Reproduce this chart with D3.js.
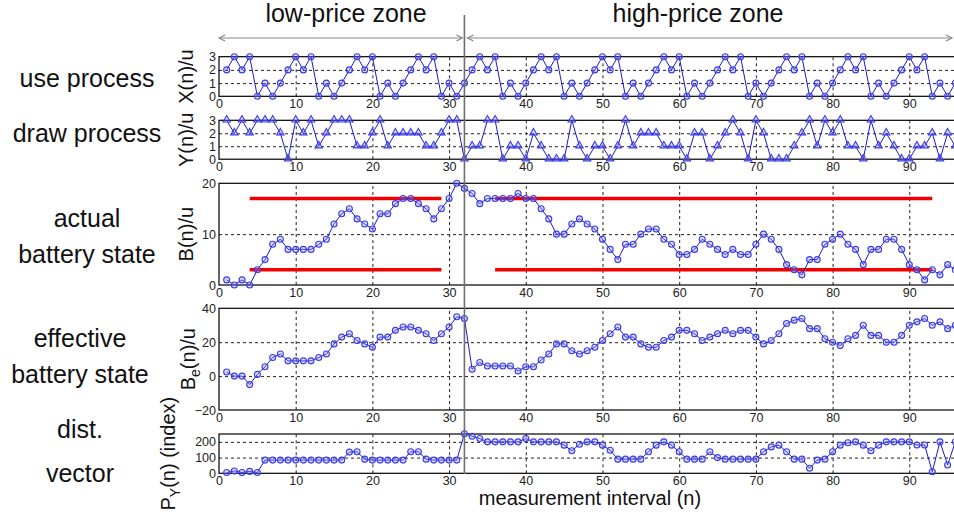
<!DOCTYPE html>
<html>
<head>
<meta charset="utf-8">
<script src="https://cdn.jsdelivr.net/npm/d3@7"></script>
<style>
  html, body { margin: 0; padding: 0; background: #fff; }
  svg { display: block; font-family: "Liberation Sans", Arial, sans-serif; }
</style>
</head>
<body>
<svg id="chart" width="954" height="518"></svg>
<script>
// ---------------- data ----------------
const nValues = d3.range(1, 97);
const useX = [2,3,2,3,0,1,0,1, 2,3,2,3,0,1,0,1, 2,3,2,3,0,1,0,1, 2,3,2,3,0,1,0,1,
              2,3,2,3,0,1,0,1, 2,3,2,3,0,1,0,1, 2,3,2,3,0,1,0,1, 2,3,2,3,0,1,0,1,
              2,3,2,3,0,1,0,1, 2,3,2,3,0,1,0,1, 2,3,2,3,0,1,0,1, 2,3,2,3,0,1,0,1];
const drawY = [3,2,3,2,3,3,3,2,0,3, 2,3,1,2,3,3,3,1,1,2, 3,1,2,2,2,2,1,1,2,3,
               3,0,1,1,3,3,0,1,1,0, 2,1,0,0,0,3,1,0,1,1, 0,1,3,1,2,2,2,1,1,1,
               0,2,2,0,1,2,3,2,0,3, 2,0,0,0,1,2,3,1,3,2, 3,1,1,0,3,1,2,1,0,0,
               1,1,2,0,2,1];
const batteryB = [1,0,1,0,3,5,8,9,7,7, 7,7,8,9,12,14,15,13,12,11, 14,14,16,17,17,16,15,13,15,17,
                  20,19,18,16,17,17,17,17,18,17, 17,15,13,10,10,12,13,12,11,9, 7,5,8,8,10,11,11,9,8,6,
                  6,7,9,8,7,6,7,6,6,8, 10,9,7,4,3,2,5,5,8,9, 10,8,7,4,7,7,9,9,7,4,
                  3,1,3,2,4,3];
const effectiveBe = [2.4,0,0,-5,1,5.5,11,13,9,9, 9,9,11,13,19,23,25,21,19,17, 23,23,27,29,29,27,25,21,25,29,
                     35,34,4,8,6,6,6,6,3,5.5, 5.5,9.5,13,19,19,15,13,15,17,21, 25,29,23,23,19,17,17,21,23,27,
                     27,25,21,23,25,27,25,27,27,23, 19,21,25,31,33,34,28,28,22,20, 18,22,24,30,24,24,20,20,24,30,
                     32,34,30,32,28,30];
const distPY = [5,15,5,12,5,84,84,84,84,84, 84,84,84,84,84,84,135,137,90,84, 84,84,84,84,137,137,90,84,84,84,
                84,252,236,221,200,200,200,200,200,221, 200,200,200,200,179,143,185,200,200,179,
                147,90,90,90,90,137,179,200,179,137, 90,90,90,137,100,90,90,90,90,90,
                137,168,179,137,90,90,32,84,90,137, 179,194,200,179,143,179,200,200,200,200,
                180,180,10,200,53,200];
const thresholdLevels = [3, 17];           // red limits on B(n)
const thresholdSpans = [[4, 29], [36, 93]]; // n-ranges of red limits
const zoneBoundary = 32;
const zoneLabels = ["low-price zone", "high-price zone"];
const xTickValues = [0,10,20,30,40,50,60,70,80,90];
const rowLabels = [["use process"], ["draw process"], ["actual", "battery state"],
                   ["effective", "battery state"], ["dist.", "vector"]];
const xTitle = "measurement interval (n)";

// ---------------- layout ----------------
const svg = d3.select("#chart");
const x = d3.scaleLinear().domain([0, 96]).range([219, 955.3]);
const left = 219, right = 956;
const blue = "#1a1ad0", markStroke = "#3b3be8", markFill = "rgba(140,140,255,0.30)";
const FONT = "Liberation Sans, Arial, sans-serif";

const panels = [
  {data: useX,        dom: [0,3],    top: 56.7,  bottom: 96.3,  yt: [0,1,2,3],     grid: [1,2],     label: ["X(n)/u"], lx: 186, sym: "circle"},
  {data: drawY,       dom: [0,3],    top: 120.3, bottom: 159.2, yt: [0,1,2,3],     grid: [1,2],     label: ["Y(n)/u"], lx: 186, sym: "tri"},
  {data: batteryB,    dom: [0,20],   top: 183.3, bottom: 285,   yt: [0,10,20],     grid: [10],      label: ["B(n)/u"], lx: 186, sym: "circle", red: true},
  {data: effectiveBe, dom: [-20,40], top: 308.3, bottom: 410,   yt: [-20,0,20,40], grid: [0,20],    label: ["B", "e", "(n)/u"], lx: 188, sym: "circle"},
  {data: distPY,      dom: [0,250],  top: 434,   bottom: 473.3, yt: [0,100,200],   grid: [100,200], label: ["P", "Y", "(n) (index)"], lx: 168, sym: "circle"}
];

panels.forEach((p, i) => {
  const y = d3.scaleLinear().domain(p.dom).range([p.bottom, p.top]);
  const g = svg.append("g");

  // vertical grid
  g.append("g").attr("transform", `translate(0,${p.bottom})`)
    .call(d3.axisBottom(x).tickValues(d3.range(10, 100, 10)).tickSize(-(p.bottom - p.top)).tickFormat(""))
    .call(a => a.select(".domain").remove())
    .call(a => a.selectAll("line").attr("stroke", "#222").attr("stroke-dasharray", "3,3").attr("stroke-width", 1));
  // horizontal grid
  g.append("g").attr("transform", `translate(${left},0)`)
    .call(d3.axisLeft(y).tickValues(p.grid).tickSize(-(right - left)).tickFormat(""))
    .call(a => a.select(".domain").remove())
    .call(a => a.selectAll("line").attr("stroke", "#222").attr("stroke-dasharray", "3,3").attr("stroke-width", 1));

  // box
  g.append("rect").attr("x", left).attr("y", p.top).attr("width", right - left).attr("height", p.bottom - p.top)
    .attr("fill", "none").attr("stroke", "#000").attr("stroke-width", 1.2);

  // x tick labels
  g.append("g").attr("transform", `translate(0,${p.bottom})`)
    .call(d3.axisBottom(x).tickValues(xTickValues).tickSize(0).tickPadding(3).tickFormat(d3.format("d")))
    .call(a => a.select(".domain").remove())
    .call(a => a.selectAll("text").attr("font-size", 12.5).attr("fill", "#222").attr("font-family", FONT));
  // y tick labels
  g.append("g").attr("transform", `translate(${left},0)`)
    .call(d3.axisLeft(y).tickValues(p.yt).tickSize(0).tickPadding(3).tickFormat(d3.format("d")))
    .call(a => a.select(".domain").remove())
    .call(a => a.selectAll("text").attr("font-size", 12.5).attr("fill", "#222").attr("font-family", FONT));

  // y label
  const cy = (p.top + p.bottom) / 2;
  const t = g.append("text").attr("transform", `translate(${p.lx},${cy}) rotate(-90)`)
    .attr("text-anchor", "middle").attr("dy", "0.35em").attr("font-size", 20).attr("fill", "#111");
  if (p.label.length === 1) {
    t.text(p.label[0]);
  } else {
    t.append("tspan").text(p.label[0]);
    t.append("tspan").attr("font-size", 14).attr("dy", "0.35em").text(p.label[1]);
    t.append("tspan").attr("dy", "-0.25em").text(p.label[2]);
  }

  // red limits
  if (p.red) {
    thresholdSpans.forEach(s => {
      thresholdLevels.forEach(lv => {
        g.append("line").attr("x1", x(s[0])).attr("x2", x(s[1])).attr("y1", y(lv)).attr("y2", y(lv))
          .attr("stroke", "#f00000").attr("stroke-width", 3.5);
      });
    });
  }

  // data line
  const pts = p.data.map((v, k) => [nValues[k], v]);
  g.append("path").datum(pts)
    .attr("d", d3.line().x(d => x(d[0])).y(d => y(d[1])))
    .attr("fill", "none").attr("stroke", blue).attr("stroke-width", 1);
  if (p.sym === "circle") {
    g.selectAll("circle.m").data(pts).join("circle").attr("class", "m")
      .attr("cx", d => x(d[0])).attr("cy", d => y(d[1])).attr("r", 3)
      .attr("fill", markFill).attr("stroke", markStroke).attr("stroke-width", 1.1);
  } else {
    const tri = d3.symbol(d3.symbolTriangle, 24);
    g.selectAll("path.m").data(pts).join("path").attr("class", "m")
      .attr("transform", d => `translate(${x(d[0])},${y(d[1]) - 0.5})`).attr("d", tri)
      .attr("fill", markFill).attr("stroke", markStroke).attr("stroke-width", 1.1);
  }
});

// left row labels
const rowPos = [[87], [141.5], [227, 263], [347, 383], [438, 482]];
rowLabels.forEach((lines, i) => {
  lines.forEach((s, j) => {
    svg.append("text").attr("x", i >= 3 ? 80 : 87).attr("y", rowPos[i][j]).attr("text-anchor", "middle")
      .attr("font-size", 25).attr("fill", "#111").text(s);
  });
});

// x title
svg.append("text").attr("x", 590).attr("y", 505).attr("text-anchor", "middle")
  .attr("font-size", 20).attr("fill", "#111").text(xTitle);

// zone separator
const xb = x(zoneBoundary);
svg.append("line").attr("x1", xb).attr("x2", xb).attr("y1", 15).attr("y2", 474)
  .attr("stroke", "#6e6e6e").attr("stroke-width", 1.6);

// header arrows and text
const arrowY = 38;
function arrow(x1, x2) {
  svg.append("line").attr("x1", x1).attr("x2", x2).attr("y1", arrowY).attr("y2", arrowY)
    .attr("stroke", "#888").attr("stroke-width", 1.2);
  svg.append("path").attr("d", `M${x1 + 6},${arrowY - 3}L${x1},${arrowY}L${x1 + 6},${arrowY + 3}`)
    .attr("fill", "none").attr("stroke", "#888").attr("stroke-width", 1.2);
  svg.append("path").attr("d", `M${x2 - 6},${arrowY - 3}L${x2},${arrowY}L${x2 - 6},${arrowY + 3}`)
    .attr("fill", "none").attr("stroke", "#888").attr("stroke-width", 1.2);
}
arrow(x(0), xb - 2);
arrow(xb + 3, 952);
svg.append("text").attr("x", 346).attr("y", 22).attr("text-anchor", "middle").attr("font-size", 25).attr("fill", "#111").text(zoneLabels[0]);
svg.append("text").attr("x", 698).attr("y", 22).attr("text-anchor", "middle").attr("font-size", 25).attr("fill", "#111").text(zoneLabels[1]);
</script>
</body>
</html>
